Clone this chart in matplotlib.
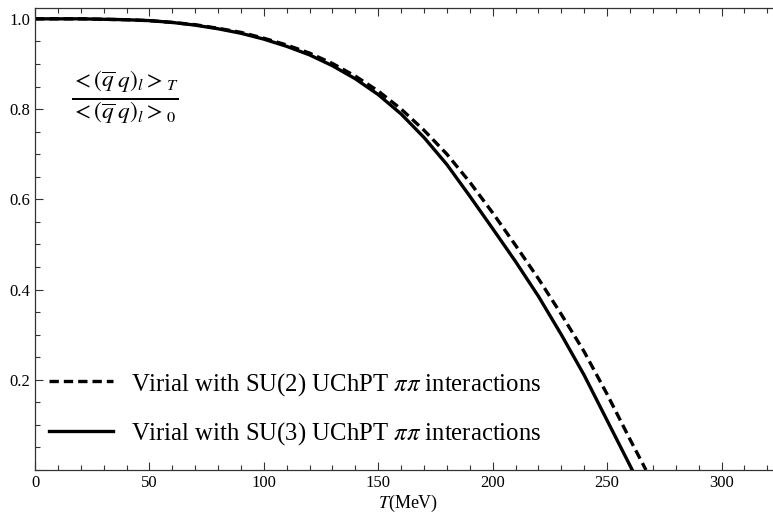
import matplotlib
matplotlib.use("Agg")
import matplotlib.pyplot as plt
from matplotlib.ticker import MultipleLocator

# data
T_su3 = [0, 10, 20, 30, 40, 50, 60, 70, 80, 90, 100, 110, 120, 130, 140, 150,
         160, 170, 180, 190, 200, 210, 220, 230, 240, 250, 261]
R_su3 = [1.0, 1.0, 1.0, 0.999, 0.998, 0.996, 0.992, 0.986, 0.978, 0.968, 0.955,
         0.939, 0.920, 0.896, 0.867, 0.832, 0.789, 0.737, 0.677, 0.607, 0.535,
         0.462, 0.385, 0.300, 0.210, 0.110, 0.0]
T_su2 = [0, 10, 20, 30, 40, 50, 60, 70, 80, 90, 100, 110, 120, 130, 140, 150,
         160, 170, 180, 190, 200, 210, 220, 230, 240, 250, 260, 267]
R_su2 = [1.0, 1.0, 1.0, 0.999, 0.998, 0.996, 0.992, 0.987, 0.979, 0.970, 0.957,
         0.942, 0.924, 0.901, 0.873, 0.840, 0.800, 0.753, 0.700, 0.638, 0.570,
         0.498, 0.424, 0.345, 0.262, 0.168, 0.068, 0.0]
labels = ["Virial with SU(2) UChPT $\\pi\\pi$ interactions",
          "Virial with SU(3) UChPT $\\pi\\pi$ interactions"]
xticks = [0, 50, 100, 150, 200, 250, 300]
yticks = [0.2, 0.4, 0.6, 0.8, 1.0]

plt.rcParams['font.family'] = ['Liberation Serif', 'DejaVu Serif']
plt.rcParams['mathtext.fontset'] = 'stix'

W, H = 773, 514
fig = plt.figure(figsize=(W/100, H/100), dpi=100)
x0, x1 = 35, 773
y_bot, y_top = 470, 8
ax = fig.add_axes([x0/W, (H-y_bot)/H, (x1-x0)/W, (y_bot-y_top)/H])

ax.plot(T_su2, R_su2, color='black', lw=2.4, ls=(0, (2.8, 1.5)), label=labels[0])
ax.plot(T_su3, R_su3, color='black', lw=2.4, label=labels[1])

ax.set_xlim(0, 322.5)
ax.set_ylim(0, 1.024)
ax.set_xticks(xticks)
ax.set_yticks(yticks)
ax.set_yticklabels([f"{v:.1f}" for v in yticks])
ax.xaxis.set_minor_locator(MultipleLocator(10))
ax.yaxis.set_minor_locator(MultipleLocator(0.05))
ax.tick_params(which='both', direction='in', top=True, right=False, width=0.8, color='#333333')
ax.tick_params(axis='x', labelsize=12)
ax.tick_params(axis='y', labelsize=12)
ax.tick_params(which='major', length=6)
ax.tick_params(which='minor', length=3.5)
ax.spines['right'].set_visible(False)
for s in ['left', 'bottom', 'top']:
    ax.spines[s].set_linewidth(0.9)
    ax.spines[s].set_color('#333333')

leg = ax.legend(loc='lower left', bbox_to_anchor=(-0.005, 0.012), frameon=False,
                fontsize=17.8, handlelength=2.6, handletextpad=0.75, labelspacing=0.92,
                borderaxespad=0.3)

fig.text(125/W, 1-98/H,
         r'$\frac{<(\overline{q}\;q)_l>_T}{<(\overline{q}\;q)_l>_0}$',
         ha='center', va='center', fontsize=24)

fig.text(408/W, 1-503/H, r'$T$(MeV)', ha='center', va='center', fontsize=13)

fig.savefig('out.png', dpi=100)
